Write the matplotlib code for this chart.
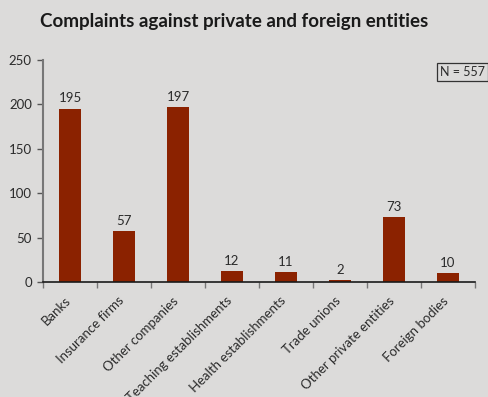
import matplotlib
matplotlib.use("Agg")
import matplotlib.pyplot as plt
import matplotlib.transforms as mtransforms
import numpy as np

categories = ["Banks", "Insurance firms", "Other companies", "Teaching establishments",
              "Health establishments", "Trade unions", "Other private entities", "Foreign bodies"]
complaints = [195, 57, 197, 12, 11, 2, 73, 10]
total_label = "N = 557"

bg = "#dcdbda"
bar_color = "#8b2200"
text_color = "#2b2b2b"

plt.rcParams["font.family"] = ["Lato", "DejaVu Sans"]

fig = plt.figure(figsize=(4.89, 3.97), dpi=100, facecolor=bg)
ax = fig.add_axes([43 / 489, 115 / 397, 432 / 489, 222 / 397], facecolor=bg)

x = np.arange(len(categories))
ax.bar(x, complaints, width=0.41, color=bar_color, zorder=2)
for xi, v in zip(x, complaints):
    ax.text(xi, v + 5, str(v), ha="center", va="bottom", fontsize=9.5, color=text_color)

ax.set_xlim(-0.5, len(categories) - 0.5)
ax.set_ylim(0, 250)
ax.set_yticks([0, 50, 100, 150, 200, 250])
ax.tick_params(axis="y", direction="out", length=4, width=1, color="#555555",
               labelsize=9.5, labelcolor=text_color, pad=4)

# category boundary ticks on the x axis, labels centred under each bar
ax.set_xticks(np.arange(-0.5, len(categories)), minor=False)
ax.set_xticklabels([])
ax.tick_params(axis="x", direction="out", length=4, width=1, color="#777777")
ax.set_xticks(x, minor=True)
labels = ax.set_xticklabels(categories, minor=True, rotation=45, ha="right",
                            rotation_mode="anchor", fontsize=9.5, color=text_color)
ax.tick_params(axis="x", which="minor", length=0, pad=9)
shift = mtransforms.ScaledTranslation(-6 / 100, 0, fig.dpi_scale_trans)
for lab in labels:
    lab.set_transform(lab.get_transform() + shift)

for s in ["top", "right"]:
    ax.spines[s].set_visible(False)
ax.spines["left"].set_color("#777777")
ax.spines["left"].set_linewidth(1.5)
ax.spines["bottom"].set_color("#1a1a1a")
ax.spines["bottom"].set_linewidth(1.2)

fig.text(40 / 489, 1 - 22 / 397, "Complaints against private and foreign entities",
         fontsize=13.5, fontweight="bold", color="#1a1a1a", va="center", ha="left")

fig.text(440 / 489, 1 - 72 / 397, total_label, fontsize=9, color=text_color,
         va="center", ha="left",
         bbox=dict(boxstyle="square,pad=0.22", facecolor=bg, edgecolor="#333333", linewidth=0.9))

fig.savefig("out.png", dpi=100, facecolor=bg)
